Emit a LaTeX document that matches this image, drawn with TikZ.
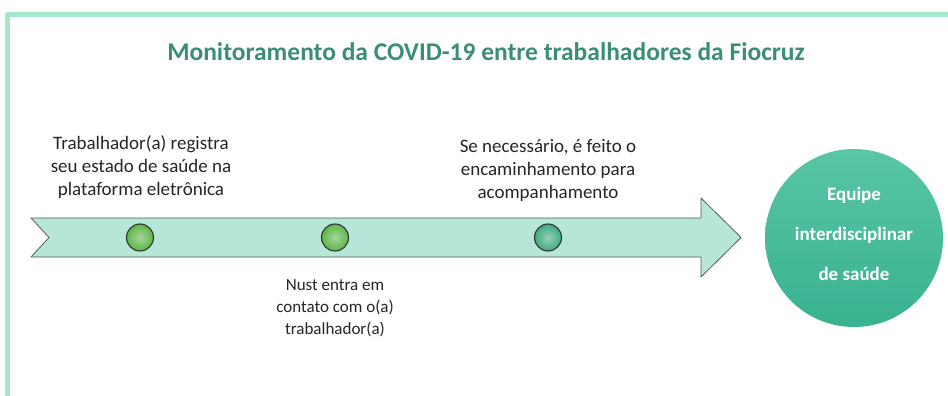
\documentclass[tikz,border=0pt]{standalone}
\usepackage{fontspec}
\setmainfont{Carlito}
\definecolor{framegreen}{HTML}{A6E6CB}
\definecolor{arrowfill}{HTML}{B5E6D7}
\definecolor{titlegreen}{HTML}{3A8E78}
\definecolor{teamgreen}{HTML}{3BBB97}
\definecolor{dotgreen}{HTML}{5DB548}
\definecolor{dotteal}{HTML}{3EAA7E}
\definecolor{txtgray}{HTML}{262626}
\tikzset{
  steptext/.style={align=center,text=txtgray,font=\fontsize{19}{23}\selectfont},
  stepdot/.style={circle,draw=black!80,line width=1.1pt,minimum size=27pt,inner sep=0pt}
}
\begin{document}
\begin{tikzpicture}[x=1pt,y=-1pt,line join=round]
\useasboundingbox (0,0) rectangle (948,396);
\fill[white] (0,0) rectangle (948,396);
% moldura
\draw[framegreen,line width=5pt] (7.5,396) -- (7.5,14.5) -- (948,14.5);
% titulo
\node[text=titlegreen,font=\fontsize{25.5}{30}\bfseries] (titulo) at (486,52) {Monitoramento da COVID-19 entre trabalhadores da Fiocruz};
% seta
\draw[fill=arrowfill,draw=black!65,line width=0.8pt]
  (31,218) -- (701,218) -- (701,198) -- (741,237.5) -- (701,277)
  -- (701,257) -- (31,257) -- (49,237.5) -- cycle;
% etapas
\node[stepdot,inner color=dotgreen!55!white,outer color=dotgreen] (p1) at (140,237.5) {};
\node[stepdot,inner color=dotgreen!55!white,outer color=dotgreen] (p2) at (335,237.5) {};
\node[stepdot,inner color=dotteal!55!white,outer color=dotteal] (p3) at (548,237.5) {};
\node[steptext,anchor=base] (t1) at (141,195) {Trabalhador(a) registra\\seu estado de saúde na\\plataforma eletrônica};
\node[steptext,anchor=base] (t3) at (548,198) {Se necessário, é feito o\\encaminhamento para\\acompanhamento};
\node[steptext,anchor=base,font=\fontsize{17}{22}\selectfont] (t2) at (335,334) {Nust entra em\\contato com o(a)\\trabalhador(a)};
% equipe
\node[circle,minimum size=178pt,inner sep=0pt,top color=teamgreen!85!white,bottom color=teamgreen!95!black] (equipe) at (854,238) {};
\node[text=white,align=center,font=\fontsize{19}{40}\bfseries] (equipetxt) at (854,234)
  {Equipe\\interdisciplinar\\de saúde};
\end{tikzpicture}
\end{document}
